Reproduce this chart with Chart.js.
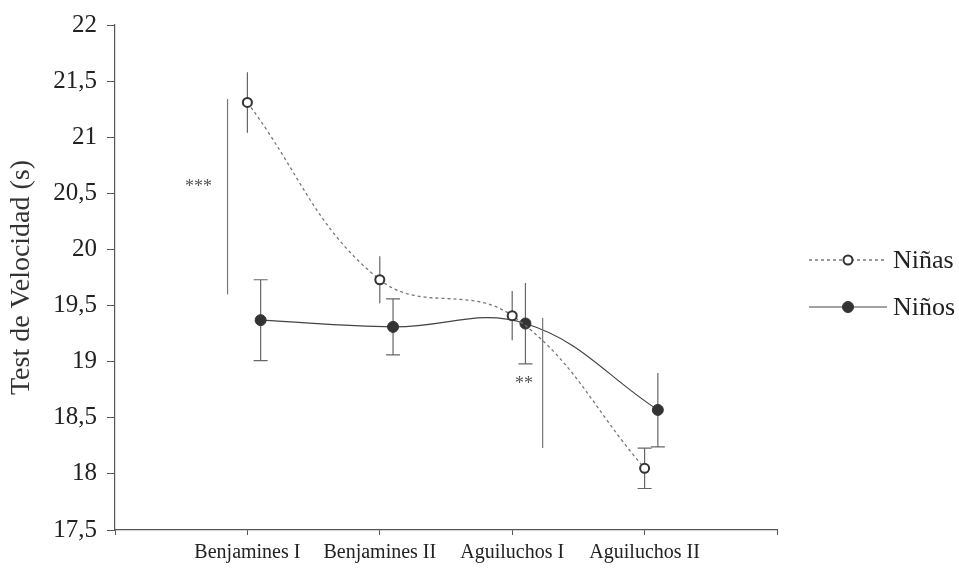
<!DOCTYPE html>
<html>
<head>
<meta charset="utf-8">
<script src="https://cdn.jsdelivr.net/npm/chart.js@4.4.1/dist/chart.umd.min.js"></script>
<style>
    html, body { margin: 0; padding: 0; background: #fff; }
</style>
</head>
<body>
<canvas id="chart" width="959" height="570"></canvas>
<script>
// Datos
const categorias = ['Benjamines I', 'Benjamines II', 'Aguiluchos I', 'Aguiluchos II'];
const posiciones = [1, 2, 3, 4];
const desplazamientoNinos = 0.1;

const ninas = [21.31, 19.73, 19.41, 18.05];
const ninasError = [0.27, 0.21, 0.22, 0.18];
const ninos = [19.37, 19.31, 19.34, 18.57];
const ninosError = [0.36, 0.25, 0.36, 0.33];

// Marcas de significacion
const sigX = [0.85, 3.23];
const sigDesde = [21.34, 19.39];
const sigHasta = [19.6, 18.23];
const sigTexto = ['***', '**'];
const sigTextoX = [0.63, 3.09];
const sigTextoY = [20.55, 18.8];

const fuente = "'Liberation Serif', 'Times New Roman', serif";

// Barras de error (debajo de los puntos)
const barrasError = {
    id: 'barrasError',
    beforeDatasetsDraw(chart) {
        const ctx = chart.ctx;
        const y = chart.scales.y;
        chart.data.datasets.forEach((ds, i) => {
            const meta = chart.getDatasetMeta(i);
            meta.data.forEach((pt, j) => {
                const v = ds.data[j].y;
                const e = ds.errores[j];
                const yArriba = y.getPixelForValue(v + e);
                const yAbajo = y.getPixelForValue(v - e);
                ctx.save();
                ctx.strokeStyle = '#666';
                ctx.lineWidth = 1.2;
                ctx.beginPath();
                ctx.moveTo(pt.x, yArriba);
                ctx.lineTo(pt.x, yAbajo);
                if (ds.capArriba[j]) {
                    ctx.moveTo(pt.x - 7, yArriba);
                    ctx.lineTo(pt.x + 7, yArriba);
                }
                if (ds.capAbajo[j]) {
                    ctx.moveTo(pt.x - 7, yAbajo);
                    ctx.lineTo(pt.x + 7, yAbajo);
                }
                ctx.stroke();
                ctx.restore();
            });
        });
    }
};

// Lineas verticales y asteriscos
const significancia = {
    id: 'significancia',
    afterDatasetsDraw(chart) {
        const ctx = chart.ctx;
        const x = chart.scales.x;
        const y = chart.scales.y;
        ctx.save();
        ctx.strokeStyle = '#777';
        ctx.lineWidth = 1.2;
        for (let i = 0; i < sigX.length; i++) {
            const px = x.getPixelForValue(sigX[i]);
            ctx.beginPath();
            ctx.moveTo(px, y.getPixelForValue(sigDesde[i]));
            ctx.lineTo(px, y.getPixelForValue(sigHasta[i]));
            ctx.stroke();
            ctx.fillStyle = '#555';
            ctx.font = '18px ' + fuente;
            ctx.textAlign = 'center';
            ctx.textBaseline = 'middle';
            ctx.fillText(sigTexto[i], x.getPixelForValue(sigTextoX[i]), y.getPixelForValue(sigTextoY[i]));
        }
        ctx.restore();
    }
};

// Leyenda a la derecha: linea con marcador en medio
const leyenda = {
    id: 'leyenda',
    afterDraw(chart) {
        const ctx = chart.ctx;
        const filas = [260, 307];
        chart.data.datasets.forEach((ds, i) => {
            const yy = filas[i];
            ctx.save();
            ctx.strokeStyle = ds.borderColor;
            ctx.lineWidth = ds.borderWidth;
            ctx.setLineDash(ds.borderDash || []);
            ctx.beginPath();
            ctx.moveTo(809, yy);
            ctx.lineTo(887, yy);
            ctx.stroke();
            ctx.setLineDash([]);
            ctx.beginPath();
            ctx.arc(848, yy, ds.pointRadius, 0, Math.PI * 2);
            ctx.fillStyle = ds.pointBackgroundColor;
            ctx.fill();
            ctx.lineWidth = ds.pointBorderWidth;
            ctx.strokeStyle = ds.pointBorderColor;
            ctx.stroke();
            ctx.fillStyle = '#222';
            ctx.font = '26px ' + fuente;
            ctx.textAlign = 'left';
            ctx.textBaseline = 'middle';
            ctx.fillText(ds.label, 893, yy + 1);
            ctx.restore();
        });
    }
};

new Chart(document.getElementById('chart'), {
    type: 'line',
    data: {
        datasets: [
            {
                label: 'Niñas',
                data: posiciones.map((p, i) => ({ x: p, y: ninas[i] })),
                errores: ninasError,
                capArriba: [false, false, false, true],
                capAbajo: [false, false, false, true],
                borderColor: '#777',
                borderWidth: 1.3,
                borderDash: [3, 3],
                pointRadius: 4.5,
                pointBackgroundColor: '#fff',
                pointBorderColor: '#333',
                pointBorderWidth: 2,
                tension: 0.4
            },
            {
                label: 'Niños',
                data: posiciones.map((p, i) => ({ x: p + desplazamientoNinos, y: ninos[i] })),
                errores: ninosError,
                capArriba: [true, true, false, false],
                capAbajo: [true, true, true, true],
                borderColor: '#444',
                borderWidth: 1.2,
                pointRadius: 5.5,
                pointBackgroundColor: '#333',
                pointBorderColor: '#333',
                pointBorderWidth: 1,
                tension: 0.4
            }
        ]
    },
    options: {
        responsive: false,
        animation: false,
        devicePixelRatio: 1,
        layout: { padding: { top: 24, right: 182, left: 0, bottom: 0 } },
        plugins: {
            legend: { display: false },
            tooltip: { enabled: false }
        },
        scales: {
            x: {
                type: 'linear',
                min: 0,
                max: 5,
                afterFit: s => { s.height = 40; },
                grid: { drawOnChartArea: false, tickLength: 5, color: '#555' },
                border: { color: '#555', width: 1.2 },
                ticks: {
                    stepSize: 1,
                    autoSkip: false,
                    maxRotation: 0,
                    padding: 6,
                    color: '#222',
                    font: { family: fuente, size: 20 },
                    callback: function(value) {
                        return categorias[value - 1] || '';
                    }
                }
            },
            y: {
                min: 17.5,
                max: 22,
                afterFit: s => { s.width = 115; },
                grid: { drawOnChartArea: false, tickLength: 8, color: '#555' },
                border: { color: '#555', width: 1.2 },
                title: {
                    display: true,
                    text: 'Test de Velocidad (s)',
                    color: '#333',
                    font: { family: fuente, size: 28 },
                    padding: { top: 5, bottom: 0 }
                },
                ticks: {
                    stepSize: 0.5,
                    padding: 10,
                    color: '#222',
                    font: { family: fuente, size: 25 },
                    callback: function(value) {
                        return String(value).replace('.', ',');
                    }
                }
            }
        }
    },
    plugins: [barrasError, significancia, leyenda]
});
</script>
</body>
</html>
